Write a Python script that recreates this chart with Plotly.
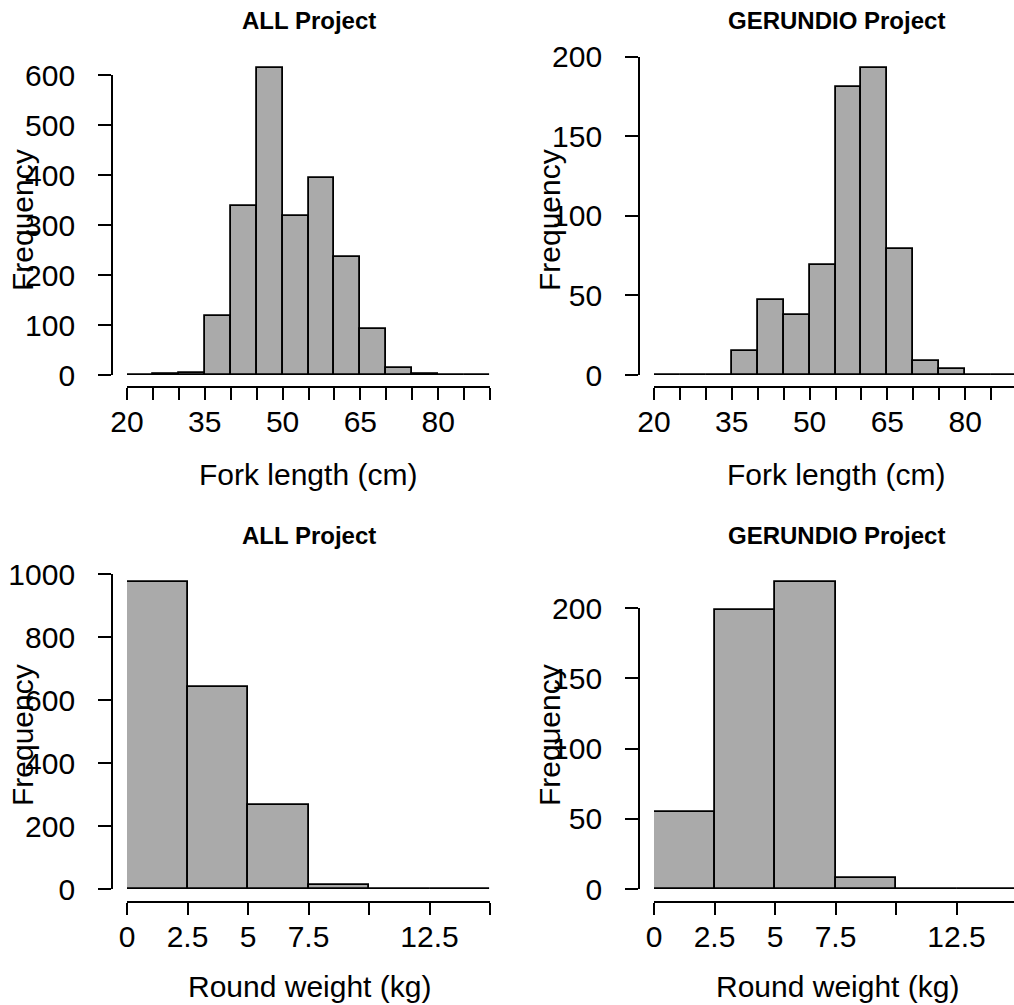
import plotly.graph_objects as go

# ---------------- data ----------------
fork_edges = [20, 25, 30, 35, 40, 45, 50, 55, 60, 65, 70, 75, 80, 85, 90]
fork_all_counts = [0, 2, 5, 118, 338, 615, 319, 394, 237, 93, 14, 3, 0, 0]
fork_ger_counts = [0, 0, 0, 15, 47, 38, 69, 181, 193, 79, 9, 4, 0, 0]
fork_tick_labels = ["20", "", "", "35", "", "", "50", "", "", "65", "", "", "80", "", ""]

weight_edges = [0, 2.5, 5, 7.5, 10, 12.5, 15]
weight_all_counts = [976, 642, 267, 14, 0, 0]
weight_ger_counts = [55, 199, 219, 8, 0, 0]
weight_tick_labels = ["0", "2.5", "5", "7.5", "", "12.5", ""]

freq_ticks_all_fork = [0, 100, 200, 300, 400, 500, 600]
freq_ticks_ger_fork = [0, 50, 100, 150, 200]
freq_ticks_all_weight = [0, 200, 400, 600, 800, 1000]
freq_ticks_ger_weight = [0, 50, 100, 150, 200]

titles = ["ALL Project", "GERUNDIO Project", "ALL Project", "GERUNDIO Project"]
xlabels = ["Fork length (cm)", "Fork length (cm)", "Round weight (kg)", "Round weight (kg)"]
ylabel = "Frequency"

# ---------------- layout geometry (pixels) ----------------
W, H = 1014, 1005
FONT = "Liberation Sans, Arial, sans-serif"
BAR_COL = "#AAAAAA"
LW = 1.8


def px(x):
    return x / W


def py(y):
    return 1 - y / H


panels = [
    dict(edges=fork_edges, counts=fork_all_counts, tl=fork_tick_labels, yt=freq_ticks_all_fork,
         x0=127, x1=490, xend=90, y0=375, ytop=75, yax=113, xax=387,
         title_xy=(309, 20), xl_xy=(308, 474), yl_xy=(22, 220)),
    dict(edges=fork_edges, counts=fork_ger_counts, tl=fork_tick_labels, yt=freq_ticks_ger_fork,
         x0=654, x1=1014, xend=None, y0=375, ytop=56.7, yax=640, xax=387,
         title_xy=(836, 20), xl_xy=(836, 474), yl_xy=(549, 220)),
    dict(edges=weight_edges, counts=weight_all_counts, tl=weight_tick_labels, yt=freq_ticks_all_weight,
         x0=127, x1=490, xend=15, y0=889, ytop=574, yax=113, xax=901.7,
         title_xy=(309, 535), xl_xy=(309, 986), yl_xy=(22, 735)),
    dict(edges=weight_edges, counts=weight_ger_counts, tl=weight_tick_labels, yt=freq_ticks_ger_weight,
         x0=654, x1=1014, xend=None, y0=889, ytop=608.3, yax=640, xax=901.7,
         title_xy=(836, 535), xl_xy=(837, 986), yl_xy=(549, 735)),
]
xscale_fork = (490 - 127) / (fork_edges[-1] - fork_edges[0])
xscale_weight = (490 - 127) / (weight_edges[-1] - weight_edges[0])
panels[1]["xend"] = fork_edges[0] + (1014 - 654) / xscale_fork
panels[3]["xend"] = weight_edges[0] + (1014 - 654) / xscale_weight

fig = go.Figure()
layout = {}
annotations = []

tickfont = dict(family=FONT, size=30, color="black")

for i, p in enumerate(panels):
    n = i + 1
    edges = p["edges"]
    centers = [(a + b) / 2 for a, b in zip(edges[:-1], edges[1:])]
    widths = [b - a for a, b in zip(edges[:-1], edges[1:])]
    fig.add_trace(go.Bar(
        x=centers, y=p["counts"], width=widths,
        marker=dict(color=BAR_COL, line=dict(color="black", width=LW)),
        xaxis=f"x{n}", yaxis=f"y{n}", showlegend=False, hoverinfo="x+y",
    ))
    k = (p["y0"] - p["ytop"]) / p["yt"][-1]
    top_px = p["title_xy"][1] + 20
    yr_top = (p["y0"] - top_px) / k
    layout[f"xaxis{n}"] = dict(
        domain=[px(p["x0"]), px(p["x1"])], range=[edges[0], p["xend"]],
        anchor="free", position=py(p["xax"]), automargin=False,
        showgrid=False, zeroline=False, showline=True, linecolor="black", linewidth=LW,
        ticks="outside", ticklen=12, tickwidth=LW, tickcolor="black",
        tickvals=edges, ticktext=p["tl"], tickfont=tickfont, ticklabelstandoff=-4,
    )
    layout[f"yaxis{n}"] = dict(
        domain=[py(p["y0"]), py(top_px)], range=[0, yr_top], anchor=f"x{n}",
        visible=False, automargin=False,
    )
    m = n + 4
    fig.add_trace(go.Scatter(x=[None], y=[None], xaxis=f"x{m}", yaxis=f"y{m}",
                             showlegend=False, hoverinfo="skip"))
    layout[f"xaxis{m}"] = dict(domain=[px(p["yax"]), px(p["x1"])], range=[0, 1],
                               visible=False, automargin=False)
    layout[f"yaxis{m}"] = dict(
        domain=[py(p["y0"]), py(p["ytop"])], range=[0, p["yt"][-1]], anchor=f"x{m}",
        automargin=False,
        showgrid=False, zeroline=False, showline=True, linecolor="black", linewidth=LW,
        ticks="outside", ticklen=13, tickwidth=LW, tickcolor="black",
        tickvals=p["yt"], tickfont=tickfont, ticklabelstandoff=17,
    )
    annotations.append(dict(text=f"<b>{titles[i]}</b>", x=px(p["title_xy"][0]), y=py(p["title_xy"][1]),
                            xref="paper", yref="paper", xanchor="center", yanchor="middle",
                            showarrow=False, font=dict(family=FONT, size=24, color="black")))
    annotations.append(dict(text=xlabels[i], x=px(p["xl_xy"][0]), y=py(p["xl_xy"][1]),
                            xref="paper", yref="paper", xanchor="center", yanchor="middle",
                            showarrow=False, font=dict(family=FONT, size=30, color="black")))
    annotations.append(dict(text=ylabel, x=px(p["yl_xy"][0]), y=py(p["yl_xy"][1]), textangle=-90,
                            xref="paper", yref="paper", xanchor="center", yanchor="middle",
                            showarrow=False, font=dict(family=FONT, size=30, color="black")))

fig.update_layout(
    width=W, height=H, margin=dict(l=0, r=0, t=0, b=0, pad=0, autoexpand=False),
    paper_bgcolor="white", plot_bgcolor="rgba(0,0,0,0)",
    annotations=annotations, bargap=0, **layout,
)

fig.write_html("out.html", config={"displayModeBar": False})
